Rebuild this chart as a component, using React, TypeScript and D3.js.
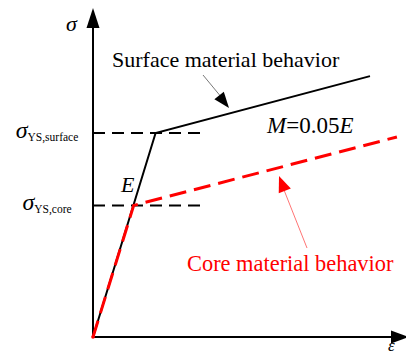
import React from "react";
import * as d3 from "d3";

// Bilinear stress–strain curves (arbitrary units)
const strainDomain: [number, number] = [0, 10];
const stressDomain: [number, number] = [0, 10];

const surfaceStrain = [0, 2.0, 8.85];
const surfaceStress = [0, 6.2, 7.93];

const coreStrain = [0, 1.3, 9.71];
const coreStress = [0, 4.0, 6.08];

// Yield-stress reference levels and where their guides stop
const yieldNames = ["YS,surface", "YS,core"];
const yieldStress = [6.2, 4.0];
const yieldGuideEnd = 3.6;

const W = 406;
const H = 357;
const FONT = "'Liberation Serif', 'Times New Roman', serif";

export default function App() {
  const x = d3.scaleLinear().domain(strainDomain).range([93, 406]);
  const y = d3.scaleLinear().domain(stressDomain).range([337, 8]);

  const line = d3
    .line<[number, number]>()
    .x((d) => x(d[0]))
    .y((d) => y(d[1]));

  const surfacePts = surfaceStrain.map((e, i) => [e, surfaceStress[i]] as [number, number]);
  const corePts = coreStrain.map((e, i) => [e, coreStress[i]] as [number, number]);

  const x0 = x(0);
  const y0 = y(0);

  // filled triangular arrowhead pointing from (fx,fy) to (tx,ty)
  const head = (fx: number, fy: number, tx: number, ty: number, len: number, half: number) => {
    const a = Math.atan2(ty - fy, tx - fx);
    const bx = tx - len * Math.cos(a);
    const by = ty - len * Math.sin(a);
    const px = -Math.sin(a) * half;
    const py = Math.cos(a) * half;
    return `M${tx},${ty}L${bx + px},${by + py}L${bx - px},${by - py}Z`;
  };

  return (
    <svg
      width={W}
      height={H}
      style={{ position: "absolute", left: 0, top: 0, background: "#fff" }}
      fontFamily={FONT}
    >
      {/* axes */}
      <line x1={x0} y1={y0} x2={x0} y2={y(stressDomain[1]) + 14} stroke="#000" strokeWidth={2} />
      <path d={head(x0, y0, x0, y(stressDomain[1]), 20, 6.5)} fill="#000" />
      <line x1={x0} y1={y0} x2={x(strainDomain[1]) - 12} y2={y0} stroke="#000" strokeWidth={2} />
      <path d={head(x0, y0, x(strainDomain[1]) + 3, y0, 18, 6.5)} fill="#000" />
      <text x={66} y={31} fontSize={22} fontStyle="italic">σ</text>
      <text x={388} y={351} fontSize={17} fontStyle="italic">ε</text>

      {/* yield-stress guides and labels */}
      {yieldStress.map((s, i) => (
        <g key={yieldNames[i]}>
          <line
            x1={x0}
            y1={y(s)}
            x2={x(yieldGuideEnd)}
            y2={y(s)}
            stroke="#000"
            strokeWidth={2}
            strokeDasharray="12 7"
          />
          <text x={47} y={y(s) + 5} textAnchor="middle">
            <tspan fontSize={24} fontStyle="italic">σ</tspan>
            <tspan fontSize={11.5} dy={3}>{yieldNames[i]}</tspan>
          </text>
        </g>
      ))}

      {/* surface material curve */}
      <path d={line(surfacePts) ?? ""} fill="none" stroke="#000" strokeWidth={2} />

      {/* core material curve */}
      <path
        d={line(corePts) ?? ""}
        fill="none"
        stroke="#ff0000"
        strokeWidth={3}
        strokeDasharray="17 8"
      />
      <circle cx={x0} cy={y0} r={1.8} fill="#ff0000" />

      {/* modulus annotations */}
      <text x={121} y={192} fontSize={22} fontStyle="italic">E</text>
      <text x={267} y={133} fontSize={23}>
        <tspan fontStyle="italic">M</tspan>=0.05<tspan fontStyle="italic">E</tspan>
      </text>

      {/* surface callout */}
      <text x={112} y={67} fontSize={22}>Surface material behavior</text>
      <line x1={203} y1={75} x2={222} y2={98} stroke="#555" strokeWidth={0.8} />
      <path d={head(203, 75, 229, 108, 16, 6)} fill="#000" />

      {/* core callout */}
      <text x={187} y={271} fontSize={22.4} fill="#ff0000">Core material behavior</text>
      <line x1={307} y1={248} x2={284} y2={190} stroke="#ff5050" strokeWidth={0.8} />
      <path d={head(307, 248, 279, 176, 16, 6.5)} fill="#ff0000" />
    </svg>
  );
}
